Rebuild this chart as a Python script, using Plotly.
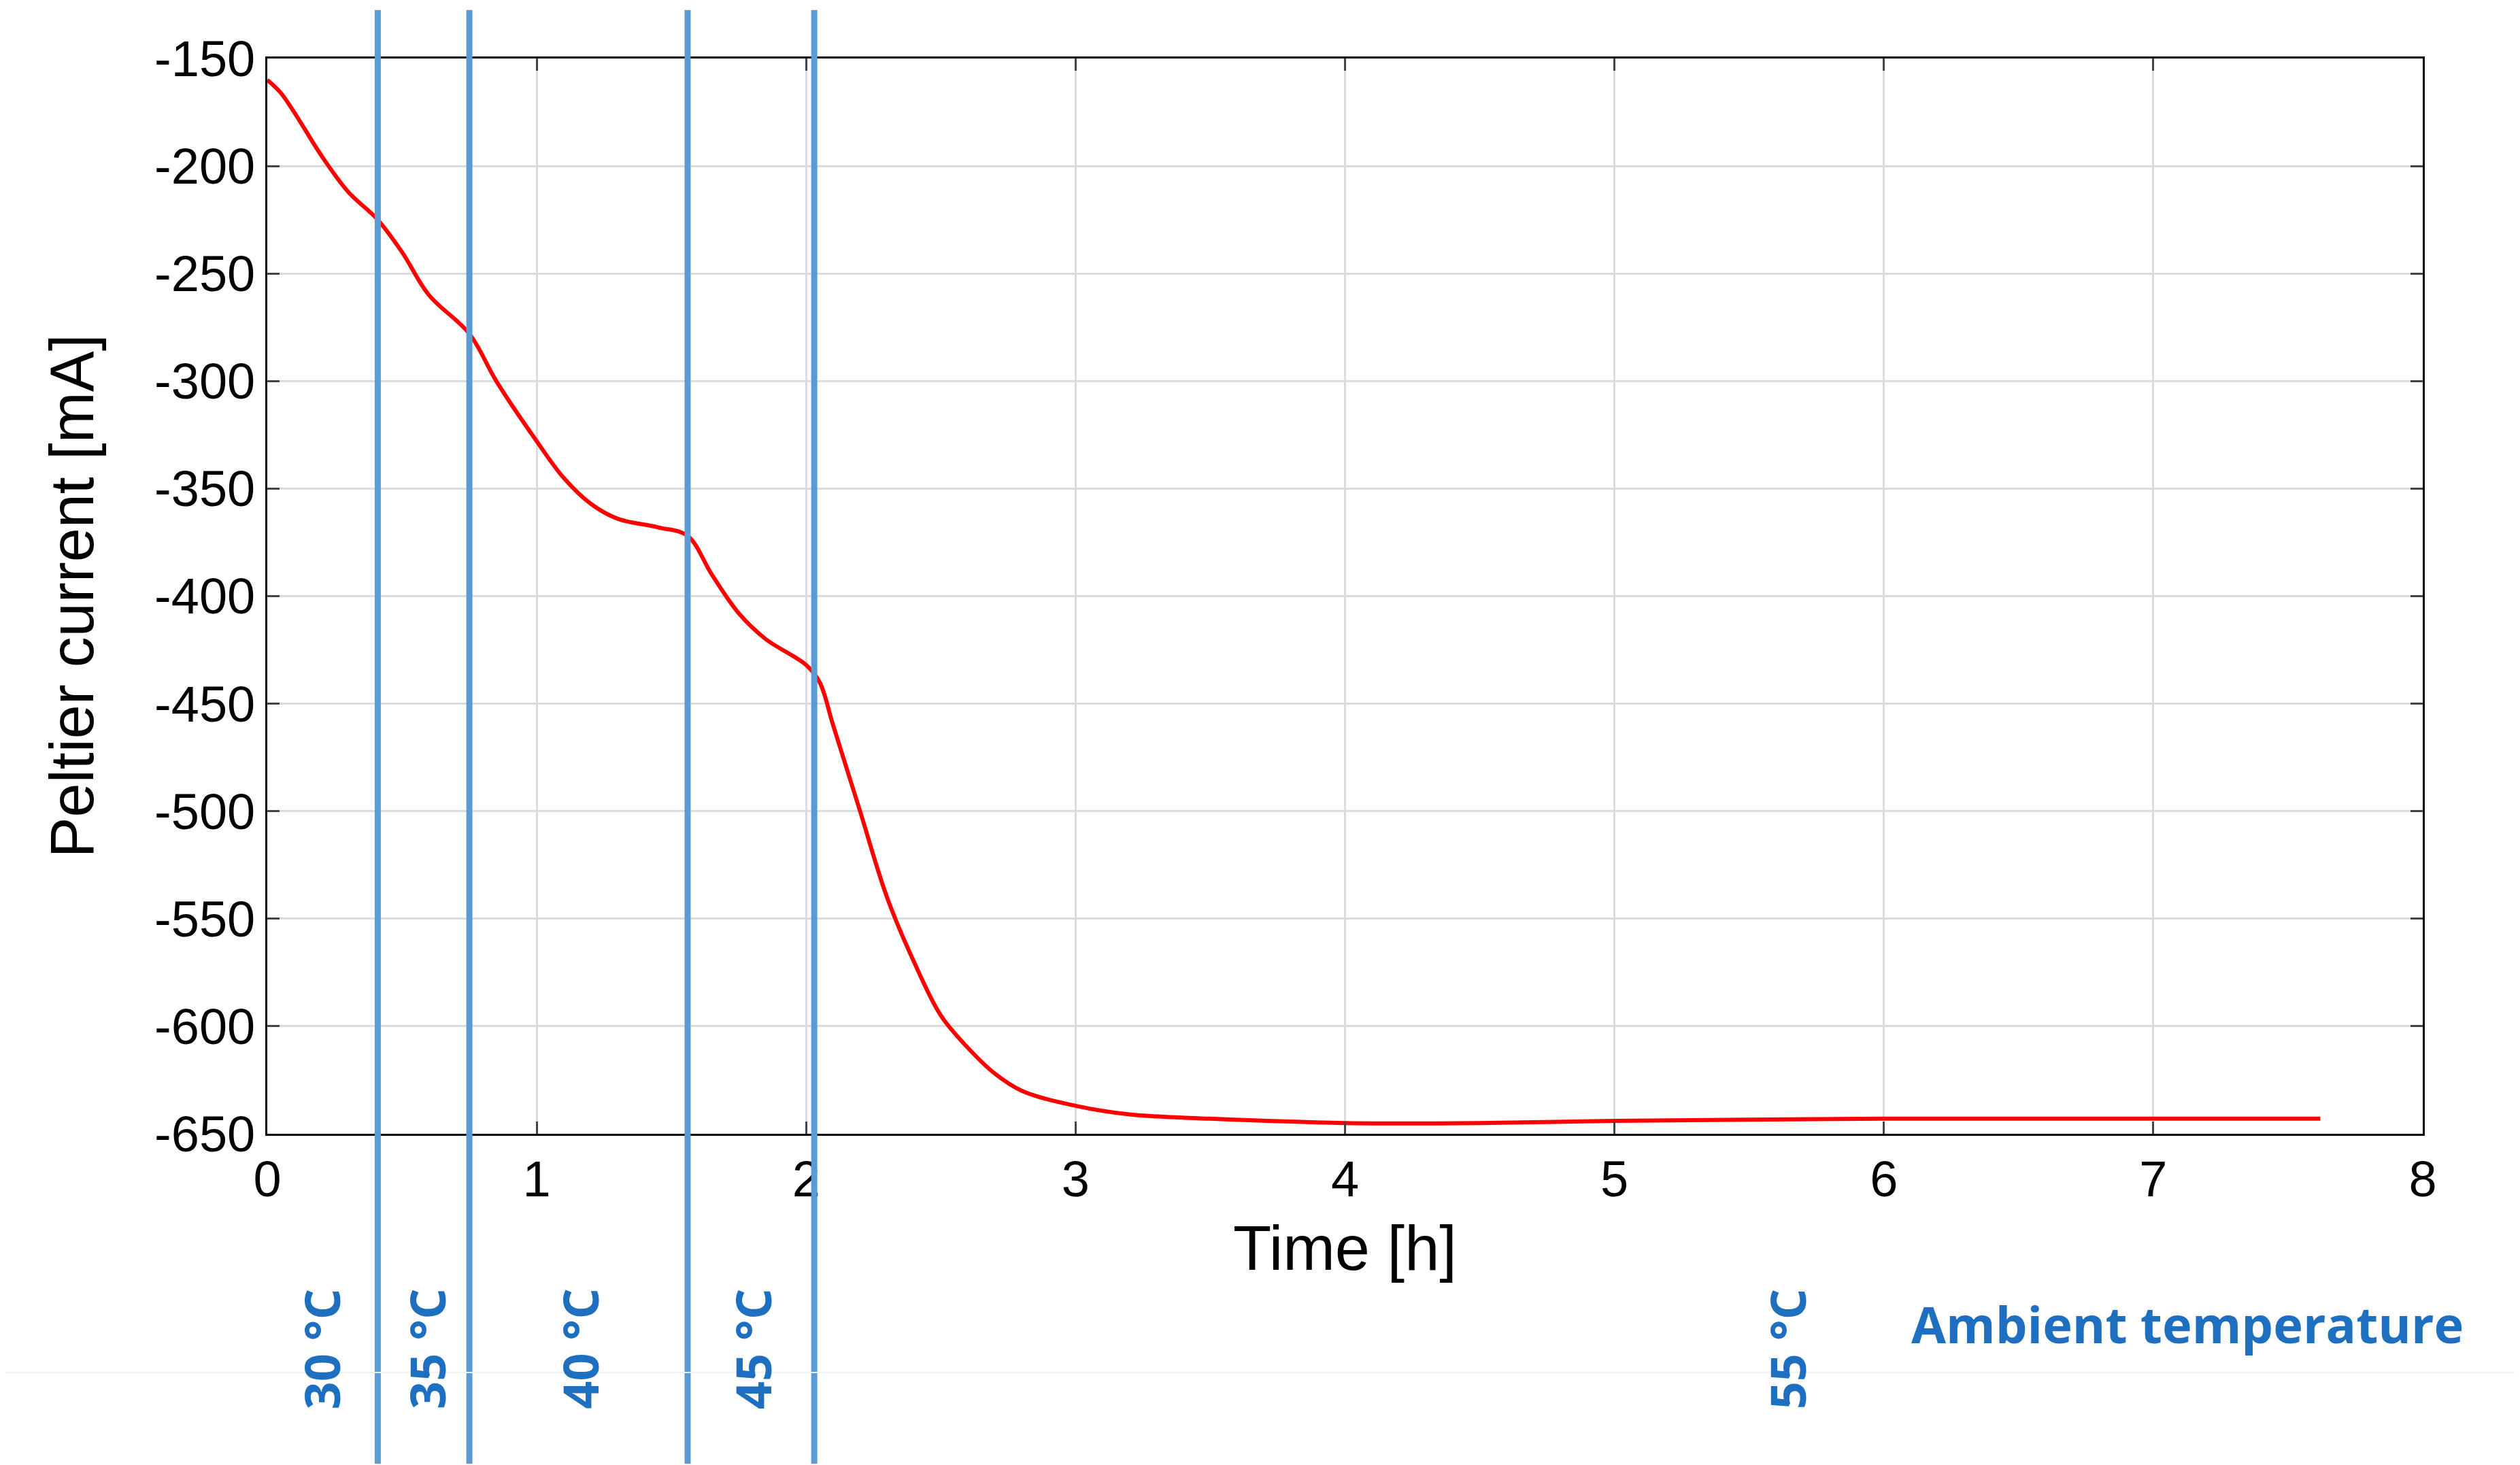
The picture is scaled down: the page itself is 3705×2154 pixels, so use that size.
import plotly.graph_objects as go

time_h = [0, 0.05, 0.1, 0.2, 0.3, 0.41, 0.5, 0.6, 0.75, 0.85, 1.0, 1.1, 1.2, 1.3, 1.45, 1.56, 1.65, 1.75, 1.85, 2.0, 2.05, 2.1, 2.2, 2.3, 2.4, 2.5, 2.6, 2.7, 2.8, 3.0, 3.2, 3.5, 4.0, 4.5, 5.0, 6.0, 7.0, 7.62]
current_ma = [-160, -166, -175, -195, -212, -225, -240, -260, -278, -300, -328, -345, -357, -364, -368, -372, -390, -408, -420, -432, -440, -460, -500, -540, -570, -595, -610, -622, -630, -637, -641, -643, -645, -645, -644, -643, -643, -643]
switch_times = [0.41, 0.75, 1.56, 2.03]
temp_labels = ["30 °C", "35 °C", "40 °C", "45 °C", "55 °C"]
label_x = [0.2, 0.59, 1.16, 1.80, 5.64]
y_ticks = [-150, -200, -250, -300, -350, -400, -450, -500, -550, -600, -650]
y_ticktext = ["-150", "-200", "-250", "-300", "-350", "-400", "-450", "-500", "-550", "-600", "-650"]

fig = go.Figure()
fig.add_trace(go.Scatter(x=time_h, y=current_ma, mode="lines", line=dict(color="#ff0000", width=6, shape="spline"), showlegend=False))

ax = dict(showline=True, linecolor="black", linewidth=3, mirror="ticks", ticks="inside", ticklen=18, tickwidth=3,
          showgrid=True, gridcolor="#dcdcdc", gridwidth=3, zeroline=False,
          tickfont=dict(family="Liberation Sans, Arial", size=74, color="black"))
fig.update_xaxes(range=[0, 8], dtick=1, **ax)
fig.update_yaxes(range=[-650, -150], tickvals=y_ticks, ticktext=y_ticktext, **ax)

for t in switch_times:
    fig.add_shape(type="line", x0=t, x1=t, xref="x", yref="paper", y0=-0.307, y1=1.045, line=dict(color="#5b9bd5", width=9))
fig.add_shape(type="line", xref="paper", yref="paper", x0=-0.23, x1=1.05, y0=-0.222, y1=-0.222, line=dict(color="#f0f0f0", width=2))

for lab, lx in zip(temp_labels, label_x):
    fig.add_annotation(x=lx, y=-0.2, xref="x", yref="paper", text=lab, textangle=-90, showarrow=False,
                       font=dict(family="Open Sans", size=72, color="#1f6fc0", weight="bold"), yanchor="middle")
fig.add_annotation(x=0.762, y=-0.21, xref="paper", yref="paper", text="Ambient temperature", showarrow=False, xanchor="left",
                   font=dict(family="Open Sans", size=74, color="#1f6fc0", weight="bold"))
fig.add_annotation(x=0.5, y=-0.14, xref="paper", yref="paper", text="Time [h]", showarrow=False,
                   font=dict(family="Liberation Sans, Arial", size=92, color="black"))
fig.add_annotation(x=-0.107, y=0.5, xref="paper", yref="paper", text="Peltier current [mA]", textangle=-90, showarrow=False,
                   font=dict(family="Liberation Sans, Arial", size=90, color="black"))

fig.update_layout(width=3705, height=2154, margin=dict(l=385, r=151, t=78, b=495),
                  paper_bgcolor="white", plot_bgcolor="white")
fig.write_html("out.html")
